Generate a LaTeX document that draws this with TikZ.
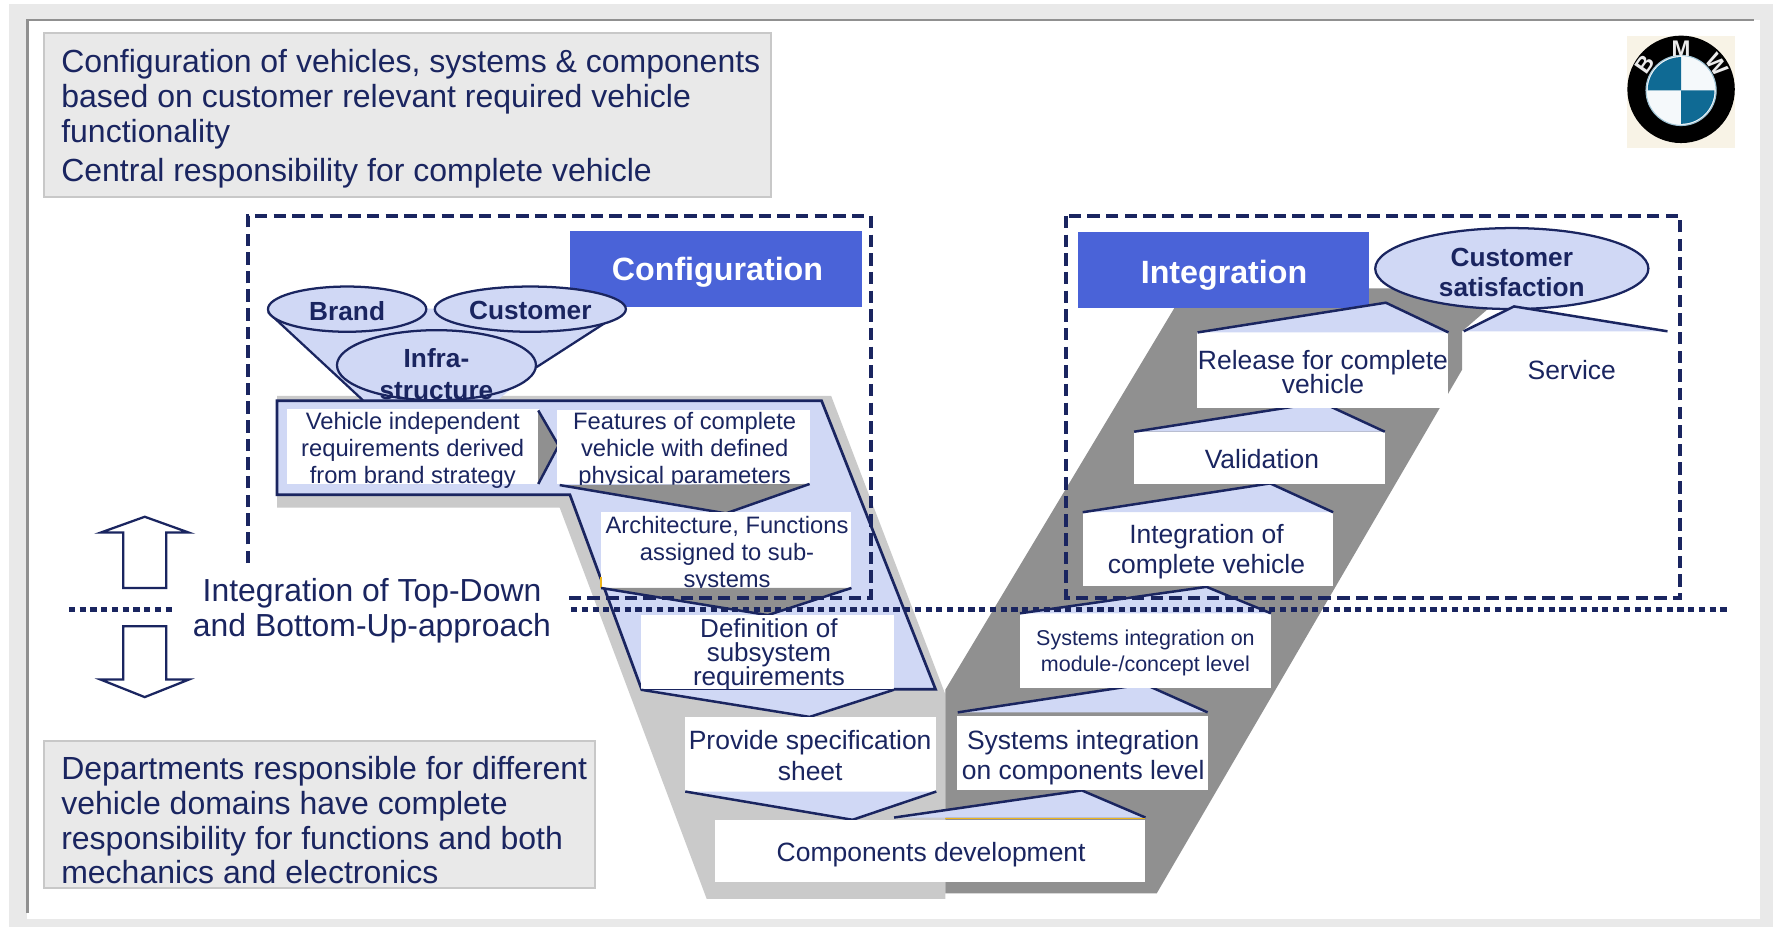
\documentclass[tikz,border=0pt]{standalone}
\usepackage{fontspec}
\setmainfont{Liberation Sans}
\usetikzlibrary{shapes.geometric}
\definecolor{navy}{HTML}{1A2560}
\definecolor{lblue}{HTML}{D0D8F5}
\definecolor{hblue}{HTML}{4A63D8}
\definecolor{dgray}{HTML}{909090}
\definecolor{lgray}{HTML}{CACACA}
\definecolor{pgray}{HTML}{E9E9E9}
\definecolor{bgray}{HTML}{C8C8C8}
\definecolor{bmwblue}{HTML}{0F6A94}
\definecolor{cream}{HTML}{F8F3E6}
\definecolor{yel}{HTML}{EDB51C}
\newcommand{\fs}[2]{\fontsize{#1}{#2}\selectfont\lineskiplimit=-100pt\relax}
\tikzset{
  wb/.style={fill=white,inner sep=0pt,outer sep=0pt},
  txt/.style={text=navy,align=center,inner sep=0pt,font=\fs{21}{24}},
  txtb/.style={txt,font=\fs{23.4}{27}},
  bold/.style={text=navy,align=center,inner sep=0pt,font=\fs{23.2}{26}\bfseries},
  head/.style={fill=hblue,text=white,inner sep=0pt,outer sep=0pt,font=\fs{28.5}{32}\bfseries},
  chevblue/.style={fill=lblue,draw=navy,line width=2.2pt},
  chevgray/.style={fill=dgray,draw=navy,line width=2.2pt},
  oval/.style={ellipse,draw=navy,fill=lblue,line width=2pt,inner sep=0pt,outer sep=0pt},
  note/.style={fill=pgray,draw=bgray,line width=1.6pt},
  notetxt/.style={text=navy,align=left,inner sep=0pt,anchor=west,font=\fs{28.3}{30.6}},
  dombox/.style={draw=navy,line width=3.3pt,dash pattern=on 11pt off 5.5pt},
  levelline/.style={draw=navy,line width=5pt,dash pattern=on 5.5pt off 4pt},
  bigarrow/.style={draw=navy,fill=white,line width=2pt},
}
\newcommand{\wbox}[5]{\pgfmathsetmacro\cx{(#2+#4)/2}\pgfmathsetmacro\cy{(#3+#5)/2}%
  \node[wb,minimum width={(#4-#2)*1pt},minimum height={(#5-#3)*1pt}] (#1) at (\cx,\cy) {};}
\begin{document}
\begin{tikzpicture}[x=1pt,y=-1pt]
\useasboundingbox (0,0) rectangle (1568,819.8);
% frame
\fill[white] (0,0) rectangle (1568,819.8);
\fill[pgray] (8.4,3.5) rectangle (1568,819.8);
\fill[white] (24.3,17.7) rectangle (1556.6,813);
\draw[dgray,line width=2.2pt] (24.3,807.5) -- (24.3,17.7) -- (1551,17.7);
% notes
\draw[note] (39,29) rectangle (682,174);
\node[notetxt] (topnote) at (54,105) {Configuration of vehicles, systems \& components\\based on customer relevant required vehicle\\functionality\\[4pt]Central responsibility for complete vehicle};
\draw[note] (39,655) rectangle (526,785);
\node[notetxt] (botnote) at (54,725.5) {Departments responsible for different\\vehicle domains have complete\\responsibility for functions and both\\mechanics and electronics};
% logo
\fill[cream] (1439,32) rectangle (1534.5,130.6);
\coordinate (lc) at (1486.7,80);
\fill[black] (1486.7,79) circle (47.5);
\fill[white!96!bmwblue] (lc) circle (31);
\fill[bmwblue] (lc) -- (1457.2,80) arc (180:270:29.5) -- cycle;
\fill[bmwblue] (lc) -- (1516.2,80) arc (0:90:29.5) -- cycle;
\draw[white!60!bmwblue,line width=1pt] (lc) circle (31);
\node[text=white!92!black,inner sep=0pt,font=\fs{20}{20}\bfseries] (lm) at (1486.7,43) {M};
\node[text=white!92!black,inner sep=0pt,font=\fs{20}{20}\bfseries,rotate=55] (lb) at (1455,57) {B};
\node[text=white!92!black,inner sep=0pt,font=\fs{20}{20}\bfseries,rotate=-55] (lw) at (1518.5,57) {W};
% V shadows
\fill[lgray] (245,350) -- (735,350) -- (836,614) -- (836,795) -- (625,795) -- (495,449) -- (245,449) -- cycle;
\fill[dgray] (836,610) -- (1049,255) -- (1337,255) -- (1293,293) -- (1293,327) -- (1023,790) -- (836,790) -- cycle;
% headers
\node[head,minimum width=258pt,minimum height=67pt] (config) at (633,238) {};
\node[text=white,inner sep=0pt,font=\fs{28.5}{32}\bfseries] (configt) at (634.5,241) {Configuration};
\node[head,minimum width=257.5pt,minimum height=67pt] (integ) at (1082,238.5) {};
\node[text=white,inner sep=0pt,font=\fs{28.5}{32}\bfseries] (integt) at (1082.5,243) {Integration};
% funnel
\fill[lblue] (237,276) -- (321,354) -- (440,354) -- (474,325) -- (536,285) -- (469,273) -- (307,273) -- cycle;
\draw[navy,line width=2pt] (237,276) -- (321,354);
\draw[navy,line width=2pt] (474,325) -- (536,285);
\node[oval,minimum width=140pt,minimum height=40pt] (brand) at (307,273.4) {};
\node[oval,minimum width=169pt,minimum height=40pt] (cust) at (469,273.4) {};
\node[oval,minimum width=176pt,minimum height=62pt] (infra) at (386,323) {};
\node[bold] (brandt) at (307,275) {Brand};
\node[bold] (custt) at (469,275) {Customer};
\node[bold,font=\fs{23.2}{28}\bfseries] (infrat) at (386,331) {Infra-\\structure};
\node[oval,minimum width=241.6pt,minimum height=71.6pt] (sat) at (1337,237.5) {};
\node[bold] (satt) at (1337,241) {Customer\\satisfaction};
% configuration polygon
\draw[fill=lblue,draw=navy,line width=2.4pt,line join=miter] (245,354.5) -- (726.6,354.5) -- (827.4,609.6) -- (567.4,609.6) -- (504,437.5) -- (245,437.5) -- cycle;
% boxes & chevrons, left branch
\wbox{b1}{254}{362}{476.5}{428}
\node[txt] (t1) at (365,398) {Vehicle independent\\requirements derived\\from brand strategy};
\filldraw[chevgray] (476,363) -- (494,394) -- (476,428);
\wbox{b2}{493}{363}{716}{428}
\node[txt] (t2) at (605.5,398.5) {Features of complete\\vehicle with defined\\physical parameters};
\filldraw[chevgray] (495,429) -- (642,454) -- (b2.south east);
\wbox{b3}{531.6}{453}{753}{520}
\node[txt] (t3) at (643,490) {Architecture, Functions\\assigned to sub-\\systems};
\draw[yel,line width=1.2pt] (531.6,510) -- (531.6,520);
\filldraw[chevgray] (b3.south west) -- (679,544) -- (b3.south east);
\wbox{b4}{567}{544}{790.6}{610}
\node[txtb,font=\fs{23}{21}] (t4) at (680,579) {Definition of\\subsystem\\requirements};
\filldraw[chevblue] (b4.south west) -- (716,634) -- (b4.south east);
\draw[navy,line width=1pt] (b4.south west) -- (b4.south east);
\wbox{b5}{606}{634}{828}{700}
\node[txtb] (t5) at (716.5,668) {Provide specification\\sheet};
\filldraw[chevblue] (b5.south west) -- (754,725) -- (b5.south east);
% right branch
\filldraw[chevblue] (790.7,723) -- (956.7,699) -- (1013,723);
\draw[yel,line width=1.4pt] (836,724) -- (1013,724);
\wbox{b6}{632}{725}{1013}{780}
\node[txtb] (t6) at (823.5,756) {Components development};
\wbox{b7}{846}{633.3}{1068}{699}
\node[txtb] (t7) at (958,670) {Systems integration\\on components level};
\filldraw[chevblue] (847,630) -- (1012,605) -- (1068,630);
\wbox{b8}{902}{542.4}{1124}{608}
\node[txtb,font=\fs{19}{23}] (t8) at (1013,577.5) {Systems integration on\\module-/concept level};
\filldraw[chevblue] (b8.north west) -- (1067,519) -- (b8.north east);
\wbox{b9}{957.5}{453}{1179}{518}
\node[txtb,font=\fs{23.4}{26}] (t9) at (1067,488) {Integration of\\complete vehicle};
\filldraw[chevblue] (b9.north west) -- (1123.3,427.5) -- (b9.north east);
\wbox{b10}{1003}{381.8}{1224.7}{428}
\node[txtb] (t10) at (1116,406) {Validation};
\filldraw[chevblue] (b10.north west) -- (1168.5,355.8) -- (b10.north east);
\wbox{b11}{1059}{294}{1281}{361}
\node[txtb,font=\fs{23.4}{21}] (t11) at (1170,329) {Release for complete\\vehicle};
\filldraw[chevblue] (b11.north west) -- (1225.6,267.7) -- (b11.north east);
\filldraw[chevblue] (1294.5,293) -- (1339,271) -- (1474.7,293);
\node[txtb] (t12) at (1390,327) {Service};
% dashed domains and level line
\draw[dombox] (219,498) -- (219,191) -- (770,191) -- (770,529) -- (503,529);
\draw[dombox] (943,191) rectangle (1486,529);
\draw[levelline] (61,539) -- (152,539);
\draw[levelline] (505,539) -- (1530,539);
\node[txtb,font=\fs{28.2}{31}] (lvl) at (329,540.5) {Integration of Top-Down\\and Bottom-Up-approach};
% up/down arrows
\draw[bigarrow,line join=miter] (109,520) -- (109,471) -- (89,471) -- (128,457) -- (167,471) -- (147,471) -- (147,520) -- cycle;
\draw[bigarrow,line join=miter] (109,553.8) -- (109,601) -- (89,601) -- (128,616.5) -- (167,601) -- (147,601) -- (147,553.8) -- cycle;
\end{tikzpicture}
\end{document}
